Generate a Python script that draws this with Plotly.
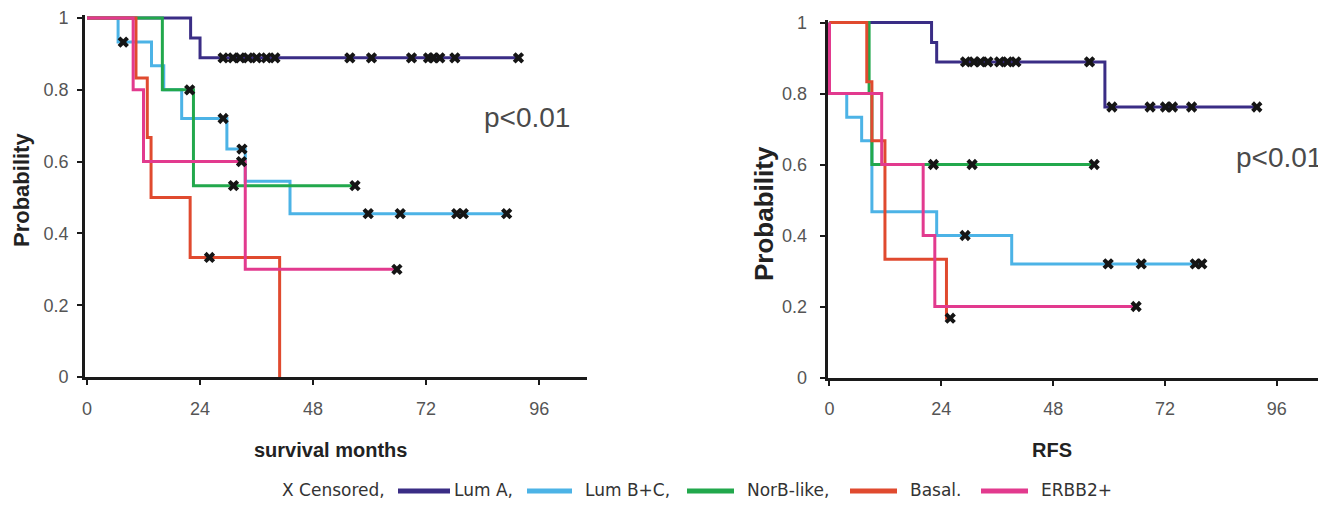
import plotly.graph_objects as go

# the page body adds an 8px margin, so the figure is offset by 8px and sized to
# end at the window edges; every reference pixel position is shifted by OFF
W_PAGE, H_PAGE = 1326, 506
OFF = 8
W, H = W_PAGE - OFF, H_PAGE - OFF

# ---------------- data ----------------
groups = ["Lum A", "Lum B+C", "NorB-like", "Basal", "ERBB2+"]
legend_labels = ["Lum A,", "Lum B+C,", "NorB-like,", "Basal.", "ERBB2+"]
colors = ["#3a2d85", "#4cb3e6", "#22a84c", "#e04a2f", "#e23a8e"]

# Overall survival (left panel): event times (months), KM survival, censored times
os_lumA_t = [0, 22.0, 24.0]
os_lumA_s = [1.0, 0.944, 0.889]
os_lumA_c = [28.9, 31.0, 32.5, 34.2, 36.0, 38.1, 39.9, 55.8, 60.4, 68.9, 72.5, 73.5, 74.9, 78.1, 91.6]

os_lumBC_t = [0, 6.6, 13.7, 16.3, 20.1, 29.7, 33.6, 43.1]
os_lumBC_s = [1.0, 0.933, 0.867, 0.8, 0.72, 0.635, 0.545, 0.455]
os_lumBC_c = [7.7, 28.9, 32.9, 59.7, 66.5, 78.5, 79.9, 89.1]

os_norb_t = [0, 16.0, 22.6]
os_norb_s = [1.0, 0.8, 0.533]
os_norb_c = [21.8, 31.1, 56.9]

os_basal_t = [0, 10.4, 12.8, 13.6, 21.9, 40.9]
os_basal_s = [1.0, 0.833, 0.667, 0.5, 0.333, 0.0]
os_basal_c = [26.0]

os_erbb2_t = [0, 9.8, 12.0, 33.6]
os_erbb2_s = [1.0, 0.8, 0.6, 0.3]
os_erbb2_c = [32.8, 65.8]

# Relapse-free survival (right panel)
rfs_lumA_t = [0, 21.9, 23.0, 59.1]
rfs_lumA_s = [1.0, 0.944, 0.889, 0.762]
rfs_lumA_c = [29.2, 31.0, 32.4, 34.0, 36.5, 38.2, 40.0, 55.8, 60.6, 68.8, 72.1, 73.6, 77.7, 91.7]

rfs_lumBC_t = [0, 0, 3.7, 6.9, 9.1, 23.0, 39.1]
rfs_lumBC_s = [1.0, 0.8, 0.733, 0.667, 0.467, 0.4, 0.32]
rfs_lumBC_c = [29.1, 59.8, 66.9, 78.5, 79.9]

rfs_norb_t = [0, 8.5, 9.1]
rfs_norb_s = [1.0, 0.8, 0.6]
rfs_norb_c = [22.3, 30.6, 56.8]

rfs_basal_t = [0, 8.0, 9.1, 11.9, 25.1]
rfs_basal_s = [1.0, 0.833, 0.667, 0.333, 0.167]
rfs_basal_c = [25.9]

rfs_erbb2_t = [0, 0, 11.2, 20.1, 22.6]
rfs_erbb2_s = [1.0, 0.8, 0.6, 0.4, 0.2]
rfs_erbb2_c = [65.8]

x_ticks = [0, 24, 48, 72, 96]
y_ticks = [0, 0.2, 0.4, 0.6, 0.8, 1]
y_ticktext = ["0", "0.2", "0.4", "0.6", "0.8", "1"]

os_data = [
    (os_lumA_t, os_lumA_s, os_lumA_c),
    (os_lumBC_t, os_lumBC_s, os_lumBC_c),
    (os_norb_t, os_norb_s, os_norb_c),
    (os_basal_t, os_basal_s, os_basal_c),
    (os_erbb2_t, os_erbb2_s, os_erbb2_c),
]
rfs_data = [
    (rfs_lumA_t, rfs_lumA_s, rfs_lumA_c),
    (rfs_lumBC_t, rfs_lumBC_s, rfs_lumBC_c),
    (rfs_norb_t, rfs_norb_s, rfs_norb_c),
    (rfs_basal_t, rfs_basal_s, rfs_basal_c),
    (rfs_erbb2_t, rfs_erbb2_s, rfs_erbb2_c),
]


def km_at(t, s, x):
    v = s[0]
    for ti, si in zip(t, s):
        if ti <= x:
            v = si
    return v


fig = go.Figure()

for panel, data in (("", os_data), ("2", rfs_data)):
    xa, ya = "x" + panel, "y" + panel
    for (t, s, c), col, g in zip(data, colors, groups):
        end = max([t[-1]] + list(c))
        fig.add_trace(go.Scatter(
            x=list(t) + [end], y=list(s) + [s[-1]], name=g,
            mode="lines", line=dict(color=col, width=3, shape="hv"),
            xaxis=xa, yaxis=ya, showlegend=False, hoverinfo="skip"))
    for (t, s, c), col in zip(data, colors):
        fig.add_trace(go.Scatter(
            x=list(c), y=[km_at(t, s, ci) for ci in c],
            mode="markers",
            marker=dict(symbol="x", size=10, color="#151515", line=dict(width=0)),
            xaxis=xa, yaxis=ya, showlegend=False, hoverinfo="skip"))


# ---------------- layout ----------------
def px(X):
    return (X - OFF) / W


def py(Y):
    return (H - (Y - OFF)) / H


def clamp(v):
    return min(1.0, max(0.0, v))


def xdom(px0, ppm, lo, hi):
    return [clamp(px(px0 + lo * ppm)), clamp(px(px0 + hi * ppm))]


def ydom(py0, ppu, lo, hi):
    return [clamp(py(py0 - lo * ppu)), clamp(py(py0 - hi * ppu))]


FONT = "Liberation Sans, Arial"
axis_common = dict(
    showline=True, linecolor="#1a1a1a", linewidth=3,
    ticks="outside", ticklen=5, tickwidth=2, tickcolor="#1a1a1a",
    showgrid=False, zeroline=False, layer="below traces", automargin=False,
    tickfont=dict(family=FONT, size=18, color="#555555"),
)

L_X0, L_PPM = 87.0, 4.71
R_X0, R_PPM = 829.5, 4.66
L_Y0, L_PPU = 377.0, 359.0
R_Y0, R_PPU = 377.5, 355.0
L_XR = [-0.4, 106.2]
R_XR = [-0.4, 105.4]
Y_R = [0, 1.008]

fig.update_layout(
    template="none",
    width=W, height=H,
    margin=dict(l=0, r=0, t=0, b=0, pad=0, autoexpand=False),
    paper_bgcolor="white", plot_bgcolor="white",
    showlegend=False,
    xaxis=dict(domain=xdom(L_X0, L_PPM, *L_XR), range=L_XR,
               tickvals=x_ticks, anchor="y", ticklabelstandoff=8, **axis_common),
    yaxis=dict(domain=ydom(L_Y0, L_PPU, *Y_R), range=Y_R,
               tickvals=y_ticks, ticktext=y_ticktext, anchor="x",
               ticklabelstandoff=5, **axis_common),
    xaxis2=dict(domain=xdom(R_X0, R_PPM, *R_XR), range=R_XR,
                tickvals=x_ticks, anchor="y2", ticklabelstandoff=8, **axis_common),
    yaxis2=dict(domain=ydom(R_Y0, R_PPU, *Y_R), range=Y_R,
                tickvals=y_ticks, ticktext=y_ticktext, anchor="x2",
                ticklabelstandoff=9, **axis_common),
)

ann_font_b = dict(family=FONT, color="#222222")
annotations = [
    dict(text="<b>Probability</b>", x=px(21), y=py(190), textangle=-90,
         font=dict(size=22, **ann_font_b)),
    dict(text="<b>Probability</b>", x=px(764), y=py(214), textangle=-90,
         font=dict(size=26, **ann_font_b)),
    dict(text="<b>survival months</b>", x=px(330), y=py(450),
         font=dict(size=20, **ann_font_b)),
    dict(text="<b>RFS</b>", x=px(1052), y=py(450),
         font=dict(size=20, **ann_font_b)),
    dict(text="p<0.01", x=px(527), y=py(118),
         font=dict(family=FONT, size=28, color="#4a4a4a")),
    dict(text="p<0.01", x=px(1324), y=py(158), xanchor="right",
         font=dict(family=FONT, size=28, color="#4a4a4a")),
]

# manual legend (positions in reference pixels)
LEG_Y = 490
leg_title_x = 280
swatch_x = [(398, 450), (527, 572), (687, 734), (850, 897), (981, 1028)]
label_x = [452, 583, 745, 908, 1039]
LEG_FONT = dict(family="DejaVu Sans", size=17, color="#333333")
annotations.append(dict(text="X Censored,", x=px(leg_title_x), y=py(LEG_Y),
                        xanchor="left", font=LEG_FONT))
shapes = []
for (x0, x1), lx, lab, col in zip(swatch_x, label_x, legend_labels, colors):
    shapes.append(dict(type="line", xref="paper", yref="paper",
                       x0=px(x0), x1=px(x1), y0=py(LEG_Y + 1), y1=py(LEG_Y + 1),
                       line=dict(color=col, width=5)))
    annotations.append(dict(text=lab, x=px(lx), y=py(LEG_Y),
                            xanchor="left", font=LEG_FONT))

for a in annotations:
    a.update(xref="paper", yref="paper", showarrow=False)
    a.setdefault("xanchor", "center")
    a.setdefault("yanchor", "middle")
fig.update_layout(annotations=annotations, shapes=shapes)

fig.write_html("out.html")
